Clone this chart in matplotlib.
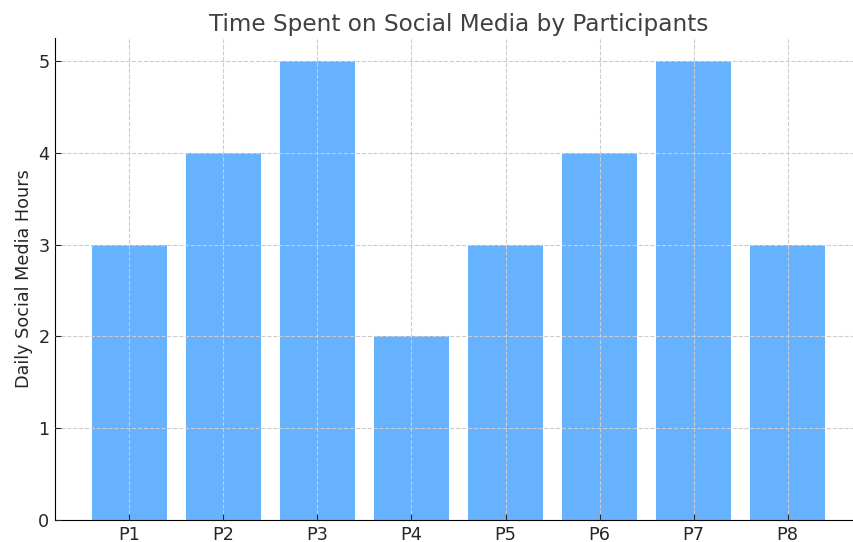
import matplotlib
matplotlib.use("Agg")
import matplotlib.pyplot as plt

participants = ["P1", "P2", "P3", "P4", "P5", "P6", "P7", "P8"]
hours = [3, 4, 5, 2, 3, 4, 5, 3]

fig = plt.figure(figsize=(8.54, 5.42), dpi=100)
ax = fig.add_axes([0.0644, 0.0406, 0.945, 0.889])
ax.bar(participants, hours, color="#66b2ff", width=0.8, zorder=1)
ax.grid(True, linestyle="--", color="#cccccc", linewidth=0.8, zorder=2)
ax.set_axisbelow(False)
ax.set_ylim(0, 5.25)
ax.set_yticks([0, 1, 2, 3, 4, 5])
ax.set_title("Time Spent on Social Media by Participants", fontsize=16.7, color="#404040", pad=5.5)
ax.set_ylabel("Daily Social Media Hours", fontsize=12.7, color="#262626", labelpad=3.5)
ax.tick_params(labelsize=12.7, colors="#262626", direction="in", length=4, pad=4)
for s in ["top", "right"]:
    ax.spines[s].set_visible(False)
fig.savefig("out.png", dpi=100)
